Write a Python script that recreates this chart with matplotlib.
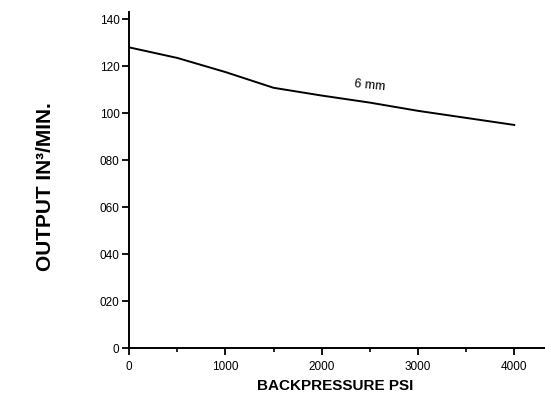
import matplotlib
matplotlib.use('Agg')
import matplotlib.pyplot as plt
from matplotlib.ticker import MultipleLocator, FixedLocator

# ── Data ───────────────────────────────────────────────────────────────────
backpressure = [0, 500, 1000, 1500, 2000, 2500, 3000, 3500, 4000]
output_6mm   = [128, 123.5, 117.5, 110.8, 107.5, 104.5, 101, 98, 95]

y_ticks  = [0, 20, 40, 60, 80, 100, 120, 140]
y_labels = ['0', '020', '040', '060', '080', '100', '120', '140']
x_ticks  = [0, 1000, 2000, 3000, 4000]

plt.rcParams['font.family'] = ['Liberation Sans', 'DejaVu Sans']

fig = plt.figure(figsize=(5.45, 4.18), dpi=100)
ax = fig.add_axes([0.237, 0.167, 0.763, 0.804])

ax.plot(backpressure, output_6mm, color='black', lw=1.4)
ax.text(2500, 108.5, '6 mm', fontsize=9, rotation=-6, ha='center', va='bottom')

ax.set_xlim(0, 4320)
ax.set_ylim(0, 143)

ax.xaxis.set_major_locator(FixedLocator(x_ticks))
ax.xaxis.set_minor_locator(MultipleLocator(500))
ax.set_yticks(y_ticks)
ax.set_yticklabels(y_labels)

for side in ('top', 'right'):
    ax.spines[side].set_visible(False)
for side in ('left', 'bottom'):
    ax.spines[side].set_linewidth(1.4)

ax.tick_params(axis='both', which='major', direction='out', length=5, width=1.3,
               labelsize=8.5, pad=2)
ax.tick_params(axis='x', which='minor', direction='out', length=3, width=1.2)
ax.tick_params(axis='x', which='major', pad=4)

ax.set_xlabel('BACKPRESSURE PSI', fontsize=11, fontweight='bold')
ax.set_ylabel('OUTPUT IN³/MIN.', fontsize=15, fontweight='bold')
ax.xaxis.set_label_coords(0.495, -0.112)
ax.yaxis.set_label_coords(-0.202, 0.482)
ax.xaxis.label.set_va('center')
ax.yaxis.label.set_va('center')

fig.savefig('out.png', dpi=100)
